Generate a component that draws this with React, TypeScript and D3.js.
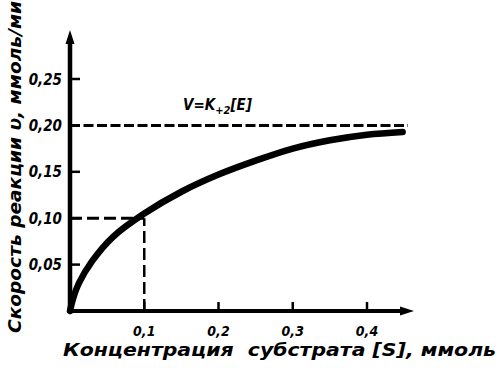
import React from "react";
import * as d3 from "d3";

const xTicks = [0.1, 0.2, 0.3, 0.4];
const xTickLabels = ["0,1", "0,2", "0,3", "0,4"];
const yTicks = [0.05, 0.1, 0.15, 0.2, 0.25];
const yTickLabels = ["0,05", "0,10", "0,15", "0,20", "0,25"];
const curveS = [0, 0.004, 0.012, 0.03, 0.058, 0.1, 0.15, 0.2, 0.25, 0.3, 0.35, 0.4, 0.448];
const curveV = [0, 0.013, 0.03, 0.054, 0.08, 0.105, 0.1285, 0.147, 0.162, 0.175, 0.184, 0.19, 0.193];
const vmax = 0.2;
const km = 0.1;
const halfV = 0.1;
const xTitle = "Концентрация  субстрата [S], ммоль";
const yTitle = "Скорость реакции υ, ммоль/мин";

const W = 502;
const H = 382;
const FONT = "'DejaVu Sans Condensed', 'DejaVu Sans', sans-serif";

export default function App() {
  const x = d3.scaleLinear().domain([0, 0.4]).range([70, 367]);
  const y = d3.scaleLinear().domain([0, 0.25]).range([311, 79]);
  const pts: [number, number][] = curveS.map((s, i) => [s, curveV[i]]);
  const line = d3
    .line<[number, number]>()
    .x((d) => x(d[0]))
    .y((d) => y(d[1]))
    .curve(d3.curveCatmullRom.alpha(0.5));
  const x0 = x(0);
  const y0 = y(0);
  const xEnd = 414;
  const yTop = 30;
  const txt = { fontFamily: FONT, fontWeight: 700, fontStyle: "italic" as const, fill: "#000" };
  return (
    <svg width={W} height={H} style={{ position: "absolute", left: 0, top: 0, background: "#fff" }}>
      {/* dashed guides */}
      <line x1={x0} x2={408} y1={y(vmax)} y2={y(vmax)} stroke="#000" strokeWidth={3} strokeDasharray="10,3.5" />
      <line x1={x0} x2={x(km)} y1={y(halfV)} y2={y(halfV)} stroke="#000" strokeWidth={3} strokeDasharray="12,5" />
      <line x1={x(km)} x2={x(km)} y1={y(0)} y2={y(halfV)} stroke="#000" strokeWidth={2.5} strokeDasharray="12,5" />
      {/* axes */}
      <line x1={x0} x2={x0} y1={y0 + 2} y2={yTop + 8} stroke="#000" strokeWidth={4.5} />
      <path d={`M${x0},${yTop} L${x0 - 4.5},${yTop + 14} L${x0 + 4.5},${yTop + 14} Z`} fill="#000" />
      <line x1={x0 - 2} x2={xEnd - 8} y1={y0} y2={y0} stroke="#000" strokeWidth={4} />
      <path d={`M${xEnd},${y0} L${xEnd - 14},${y0 - 4.5} L${xEnd - 14},${y0 + 4.5} Z`} fill="#000" />
      {/* ticks */}
      {yTicks.map((t, i) => (
        <g key={"y" + i}>
          <line x1={x0} x2={x0 + 10} y1={y(t)} y2={y(t)} stroke="#000" strokeWidth={2.5} />
          <text x={62} y={y(t) + 5.5} textAnchor="end" fontSize={15} {...txt}>
            {yTickLabels[i]}
          </text>
        </g>
      ))}
      {xTicks.map((t, i) => (
        <g key={"x" + i}>
          <line x1={x(t)} x2={x(t)} y1={y0} y2={y0 - 9} stroke="#000" strokeWidth={2.5} />
          <text x={x(t)} y={336} textAnchor="middle" fontSize={14} {...txt}>
            {xTickLabels[i]}
          </text>
        </g>
      ))}
      {/* curve */}
      <path d={line(pts) || ""} fill="none" stroke="#000" strokeWidth={6.5} strokeLinecap="round" />
      {/* equation */}
      <text x={183} y={110} fontSize={15} {...txt}>
        V=K<tspan fontSize={11} dy={4}>+2</tspan>
        <tspan dy={-4}>[E]</tspan>
      </text>
      {/* titles */}
      <text x={63} y={356} fontSize={17} textLength={433} lengthAdjust="spacingAndGlyphs" {...txt} style={{ whiteSpace: "pre" }}>
        {xTitle}
      </text>
      <text
        transform={`translate(21,333) rotate(-90)`}
        x={0}
        y={0}
        fontSize={17}
        textLength={345}
        lengthAdjust="spacingAndGlyphs"
        {...txt}
      >
        {yTitle}
      </text>
    </svg>
  );
}
